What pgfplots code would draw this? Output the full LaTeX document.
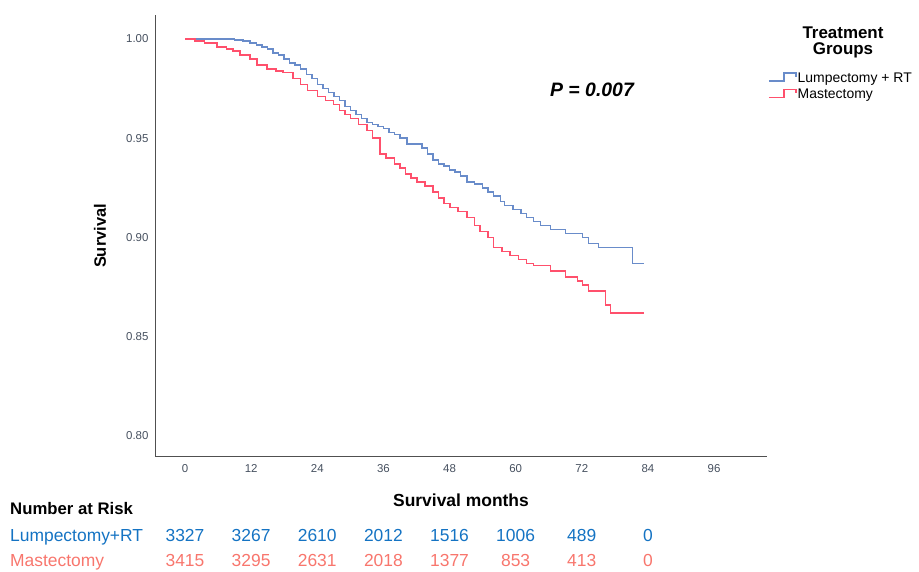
\documentclass[border=0pt]{standalone}
\usepackage{fontspec}
\setmainfont{Liberation Sans}
\usepackage{pgfplots}
\pgfplotsset{compat=1.18}
\definecolor{lumpline}{RGB}{105,140,202}
\definecolor{mastline}{RGB}{255,80,108}
\definecolor{lumptext}{RGB}{20,115,195}
\definecolor{masttext}{RGB}{248,118,109}
\definecolor{tickgray}{RGB}{70,80,95}
\definecolor{axisgray}{RGB}{80,80,80}
\begin{document}
\begin{tikzpicture}[x=1bp,y=1bp]
\useasboundingbox (0,0) rectangle (919,572);
\begin{axis}[
  at={(155bp,116bp)}, anchor=south west,
  scale only axis, width=612bp, height=441bp,
  xmin=-5.444, xmax=105.6, ymin=0.7899, ymax=1.0121,
  axis x line=bottom, axis y line=left,
  axis line style={-, axisgray, line width=0.8bp},
  xtick={0,12,24,36,48,60,72,84,96},
  ytick={0.80,0.85,0.90,0.95,1.00},
  major tick length=0pt,
  /pgf/number format/assume math mode=true,
  yticklabel style={/pgf/number format/fixed, /pgf/number format/fixed zerofill, /pgf/number format/precision=2, font=\fontsize{11.5}{13}\selectfont, text=tickgray, xshift=-3bp},
  xticklabel style={font=\fontsize{11.5}{13}\selectfont, text=tickgray, yshift=-5bp},
  legend style={at={(axis description cs:1.0016,0.872)}, anchor=north west, draw=none, fill=none, inner sep=0pt, row sep=3bp, font=\fontsize{14}{15}\selectfont, nodes={inner sep=1bp}},
  legend cell align=left,
  legend image code/.code={\draw[#1] (0bp,-3bp) -- (15bp,-3bp) -- (15bp,5bp) -- (27bp,5bp) -- (27bp,1bp);},
  clip=false,
]
\addplot[const plot mark left, color=lumpline, line width=1.5bp] coordinates {
(0,1.000) (9.0,0.9995) (10.5,0.999) (11.8,0.998) (13.0,0.997) (14.0,0.996) (15.0,0.995)
(16.0,0.993) (17.0,0.992) (18.0,0.990) (19.0,0.988) (20.0,0.987) (21.0,0.985) (22.0,0.982)
(23.0,0.980) (24.0,0.977) (25.0,0.975) (26.0,0.973) (27.0,0.971) (28.0,0.969) (29.0,0.966)
(30.0,0.964) (31.0,0.962) (32.0,0.960) (33.0,0.958) (34.0,0.957) (35.0,0.956) (36.0,0.955)
(37.0,0.953) (38.0,0.952) (39.0,0.950) (40.3,0.947) (43.0,0.945) (44.0,0.942) (45.0,0.939)
(46.0,0.937) (47.0,0.936) (48.0,0.934) (49.0,0.933) (50.0,0.931) (51.2,0.928) (52.5,0.927)
(54.0,0.925) (55.0,0.923) (56.0,0.921) (57.2,0.918) (58.0,0.916) (59.5,0.914) (61.0,0.912)
(62.0,0.910) (63.2,0.908) (64.5,0.906) (66.3,0.904) (69.0,0.902) (72.1,0.900) (73.2,0.897)
(75.0,0.895) (81.2,0.887) (83.2,0.887)
};
\addlegendentry{Lumpectomy + RT}
\addplot[const plot mark left, color=mastline, line width=1.5bp] coordinates {
(0,1.000) (1.8,0.999) (3.5,0.998) (5.8,0.996) (7.5,0.995) (8.7,0.994) (10.0,0.992)
(11.8,0.990) (13.1,0.987) (14.9,0.985) (16.5,0.984) (17.8,0.983) (19.6,0.980) (21.0,0.977)
(22.2,0.974) (24.0,0.971) (25.5,0.969) (26.9,0.967) (28.0,0.964) (29.0,0.962) (30.0,0.960)
(31.5,0.957) (33.0,0.954) (34.0,0.950) (35.4,0.942) (36.5,0.940) (38.0,0.937) (39.0,0.935)
(40.0,0.932) (41.0,0.930) (42.1,0.928) (43.5,0.926) (45.0,0.923) (46.0,0.920) (47.0,0.917)
(48.1,0.915) (49.5,0.913) (51.2,0.910) (52.5,0.906) (53.5,0.903) (55.0,0.900) (56.0,0.895)
(57.5,0.893) (59.0,0.891) (60.5,0.889) (62.0,0.887) (63.2,0.886) (66.3,0.883) (69.0,0.880)
(71.2,0.878) (72.1,0.876) (73.2,0.873) (76.3,0.866) (77.2,0.862) (83.2,0.862)
};
\addlegendentry{Mastectomy}
\end{axis}
% titles and labels
\node[rotate=90, font=\fontsize{16.5}{18}\selectfont\bfseries] at (100,336) {Survival};
\node[anchor=base, font=\fontsize{17.5}{19}\selectfont\bfseries] at (461,65) {Survival months};
\node[anchor=base, font=\fontsize{19.5}{21}\selectfont\bfseries\itshape] at (592,475) {P = 0.007};
\node[anchor=base, font=\fontsize{17}{18}\selectfont\bfseries] at (843,533) {Treatment};
\node[anchor=base, font=\fontsize{17}{18}\selectfont\bfseries] at (843,517) {Groups};
% number at risk table
\node[anchor=base west, inner sep=0pt, font=\fontsize{16.8}{18}\selectfont\bfseries] at (10,57) {Number at Risk};
\node[anchor=base west, inner sep=0pt, text=lumptext, font=\fontsize{17.5}{19}\selectfont] at (10,30) {Lumpectomy+RT};
\node[anchor=base west, inner sep=0pt, text=masttext, font=\fontsize{17.5}{19}\selectfont] at (10,5) {Mastectomy};
\begin{scope}[every node/.style={anchor=base, inner sep=0pt, font=\fontsize{17.5}{19}\selectfont}]
\node[text=lumptext] at (185.0,30) {3327};
\node[text=lumptext] at (251.1,30) {3267};
\node[text=lumptext] at (317.2,30) {2610};
\node[text=lumptext] at (383.4,30) {2012};
\node[text=lumptext] at (449.5,30) {1516};
\node[text=lumptext] at (515.6,30) {1006};
\node[text=lumptext] at (581.7,30) {489};
\node[text=lumptext] at (647.9,30) {0};
\node[text=masttext] at (185.0,5) {3415};
\node[text=masttext] at (251.1,5) {3295};
\node[text=masttext] at (317.2,5) {2631};
\node[text=masttext] at (383.4,5) {2018};
\node[text=masttext] at (449.5,5) {1377};
\node[text=masttext] at (515.6,5) {853};
\node[text=masttext] at (581.7,5) {413};
\node[text=masttext] at (647.9,5) {0};
\end{scope}
\end{tikzpicture}
\end{document}
